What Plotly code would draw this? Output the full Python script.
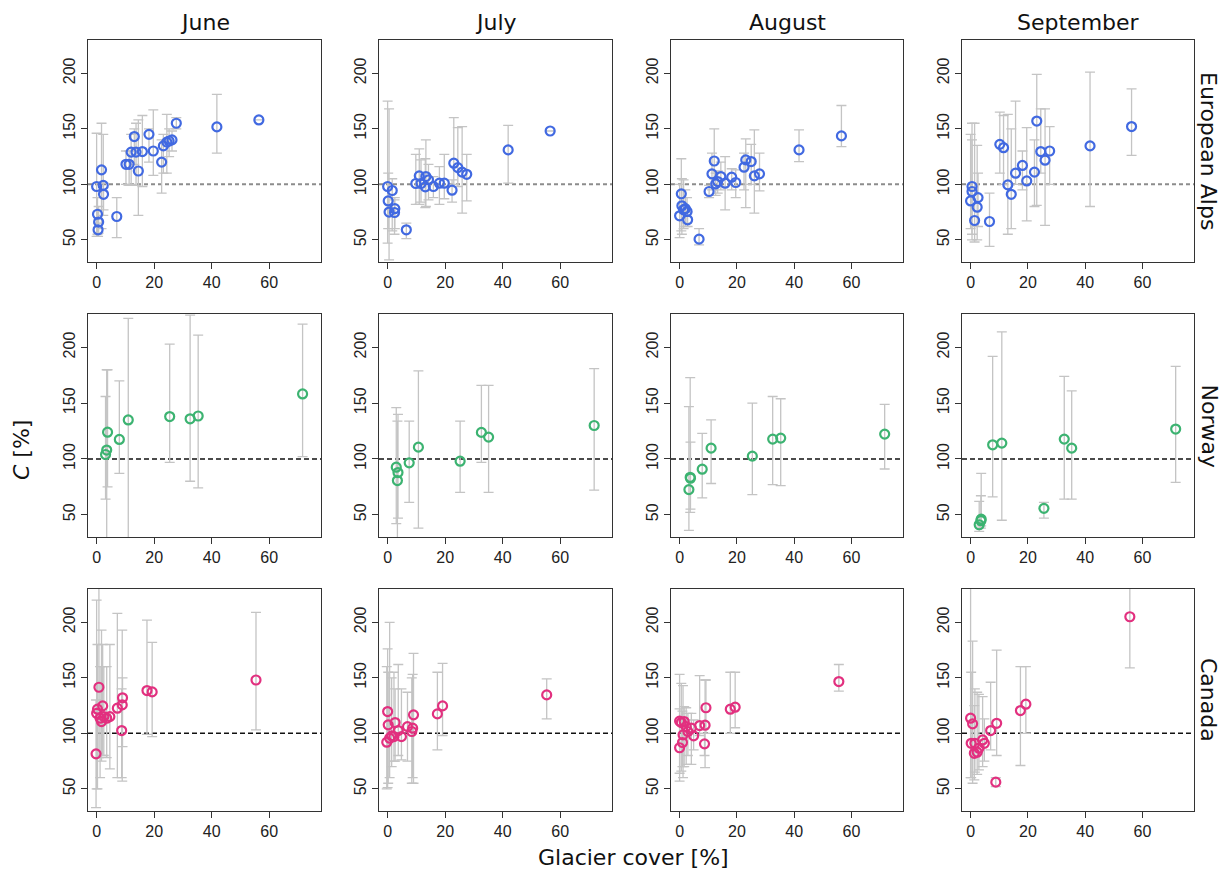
import plotly.graph_objects as go

MONTHS = ["June", "July", "August", "September"]
REGIONS = ["European Alps", "Norway", "Canada"]
REGION_COLORS = ["#4169e1", "#3cb371", "#e2307f"]
X_TICKS = [0, 20, 40, 60]
Y_TICKS = [50, 100, 150, 200]

# (glacier cover %, C %, lower bound, upper bound)
ALPS_JUNE = [
    (0.0, 98, 53, 146), (0.3, 73, 55, 88), (0.7, 66, 56, 80), (0.5, 59, 53, 65),
    (1.7, 113, 60, 155), (2.3, 99, 72, 145), (2.4, 91, 77, 101), (7.0, 71, 52, 88),
    (10.2, 118, 100, 130), (11.3, 118, 99, 130), (12.0, 129, 100, 145), (13.1, 143, 118, 150),
    (13.7, 129, 99, 155), (14.5, 112, 72, 158), (15.9, 129.5, 98, 162), (18.2, 145, 120, 150),
    (19.7, 130, 108, 167), (22.6, 120, 92, 140), (23.2, 134.6, 110, 145), (24.4, 138, 110, 163),
    (25.2, 139, 125, 150), (26.2, 140, 130, 148), (27.7, 155, 150, 160), (41.8, 151.7, 128, 181),
    (56.4, 158, 158, 158),
]
ALPS_JULY = [
    (0.0, 98, 47, 175), (0.2, 85, 60, 110), (0.5, 75, 32, 168), (1.6, 94.4, 58, 105),
    (2.5, 78, 60, 88), (2.4, 74.6, 55, 86), (6.5, 59, 51, 65), (9.8, 100.7, 82, 127),
    (11.0, 107.6, 82, 132), (11.6, 100.7, 84, 122), (13.1, 97.7, 79, 123), (13.3, 107, 80, 140),
    (14.2, 104, 86, 118), (15.9, 98, 88, 107), (18.0, 101, 82, 116), (19.7, 101, 87, 127),
    (22.4, 94.7, 84, 104), (23.0, 119, 100, 160), (24.4, 115, 98, 151), (25.9, 111, 74, 152),
    (27.5, 109, 85, 127), (41.9, 131, 101, 153), (56.5, 148, 148, 148),
]
ALPS_AUGUST = [
    (0.6, 91.4, 58, 123), (0.0, 71.6, 52, 100), (0.8, 80.6, 55, 105), (1.4, 77, 60, 104),
    (2.0, 78, 62, 95), (2.6, 75.5, 65, 88), (2.8, 68, 62, 75), (6.8, 50.6, 45.5, 60),
    (10.3, 93.5, 88, 99), (11.3, 109.4, 95, 128), (12.1, 121, 105, 150), (12.6, 100.4, 90, 110),
    (13.3, 102.5, 92, 112), (14.4, 107, 95, 120), (15.9, 101, 77, 125), (18.2, 106.4, 95, 114),
    (19.6, 101.6, 88, 113), (22.5, 115.4, 95, 128), (23.1, 122, 79, 141), (25.0, 120.5, 100, 136),
    (26.1, 107.6, 74, 149), (27.9, 109.4, 94, 128), (41.7, 131, 120.5, 149), (56.5, 143.6, 134, 171),
]
ALPS_SEPTEMBER = [
    (0.5, 98, 50, 155), (0.0, 85, 60, 145), (0.5, 93.5, 55, 140), (1.4, 67.4, 48, 155),
    (2.6, 88, 62, 110), (2.3, 79.4, 50, 135), (6.6, 66.5, 44, 92), (10.2, 136, 110, 165),
    (11.5, 133, 100, 162), (13.0, 99.5, 55, 163), (14.2, 91, 60, 150), (15.7, 110, 100, 175),
    (18.1, 117, 95, 130), (19.6, 103, 67, 151), (22.3, 111, 80, 140), (23.1, 157, 81, 199),
    (24.5, 129.5, 110, 168), (26.0, 121.7, 63, 168), (27.6, 130, 100, 152), (41.7, 134.6, 80, 201),
    (56.2, 152, 126, 186),
]

NORWAY_JUNE = [
    (3.1, 104, 64, 156), (3.5, 108, 20, 180), (3.8, 124, 75, 180), (7.9, 117.5, 87, 170),
    (11.0, 135, 20, 226), (25.4, 138, 97, 203), (32.5, 136, 80, 229), (35.3, 138.5, 74, 211),
    (71.6, 158.3, 102, 221),
]
NORWAY_JULY = [
    (3.0, 92.6, 42, 146), (3.6, 87.8, 47, 140), (3.4, 80.6, 20, 134), (7.5, 96.5, 61, 134),
    (10.7, 110.6, 38, 179), (25.2, 98, 70, 134), (32.6, 123.8, 97, 166), (35.1, 119.6, 70, 166),
    (71.8, 130, 72, 181),
]
NORWAY_AUGUST = [
    (3.25, 72.5, 36, 147), (3.7, 83.6, 52, 173), (3.8, 82.7, 55, 115), (7.9, 90.8, 65, 123),
    (11.0, 109.7, 78, 135), (25.4, 102.5, 68, 150), (32.5, 117.8, 77, 156), (35.3, 118.7, 76, 154),
    (71.6, 122.3, 91, 149),
]
NORWAY_SEPTEMBER = [
    (3.0, 41, 35, 62), (3.6, 44.6, 38, 67), (3.7, 46, 40, 87), (7.7, 112.7, 66, 192),
    (10.9, 114.2, 45, 214), (25.6, 55.7, 47, 61), (32.7, 117.8, 64, 174), (35.3, 109.7, 64, 161),
    (71.6, 126.8, 79, 183),
]

CANADA_JUNE = [
    (-0.2, 81.5, 33, 130), (0.0, 118, 50, 220), (0.3, 121.7, 50, 180), (0.8, 141.5, 78, 232),
    (1.2, 113.6, 60, 160), (1.7, 110.6, 75, 193), (2.1, 124.7, 80, 180), (2.5, 115, 80, 160),
    (3.5, 113.6, 78, 160), (4.6, 115, 68, 180), (7.2, 122.6, 60, 208), (8.7, 102.5, 60, 140),
    (8.9, 125.6, 57, 193), (9.0, 132, 88, 150), (17.5, 138.5, 99, 202), (19.3, 137.3, 97, 182),
    (55.4, 148, 103, 209),
]
CANADA_JULY = [
    (0.0, 119.6, 51, 176), (-0.3, 92, 50, 160), (0.2, 107.6, 55, 155), (0.7, 95.6, 60, 200),
    (1.4, 97.7, 70, 150), (2.2, 97, 75, 155), (2.6, 109.7, 75, 140), (3.7, 102.5, 80, 162),
    (4.8, 97, 76, 140), (6.9, 106, 75, 137), (8.4, 101.6, 55, 150), (8.7, 104.6, 60, 153),
    (9.0, 116.6, 55, 172), (17.3, 117.5, 85, 155), (19.1, 124.7, 98, 163), (55.3, 134.6, 113, 149),
]
CANADA_AUGUST = [
    (0.0, 87, 57, 122), (0.0, 111, 64, 153), (0.6, 109.7, 66, 145), (1.2, 98.6, 60, 143),
    (1.6, 110.6, 70, 124), (1.0, 91.7, 70, 120), (2.3, 106, 72, 123), (2.9, 101.6, 80, 118),
    (4.1, 104.6, 72, 118), (4.9, 97.7, 85, 112), (7.0, 107, 98, 152), (8.9, 107.3, 69, 148),
    (8.7, 90.5, 80, 100), (9.2, 123, 100, 148), (17.7, 121.7, 100, 155), (19.4, 123.5, 105, 155),
    (55.6, 146.6, 138, 162),
]
CANADA_SEPTEMBER = [
    (0.0, 113.6, 60, 240), (0.7, 108.5, 55, 183), (0.2, 91, 60, 155), (1.5, 91, 65, 140),
    (1.3, 82, 58, 125), (2.3, 83, 63, 137), (2.9, 86.6, 67, 135), (4.2, 94, 70, 133),
    (4.8, 91, 75, 113), (7.0, 102.5, 85, 146), (9.1, 109, 80, 175), (8.8, 56, 52, 60),
    (17.4, 120.5, 71, 160), (19.3, 126.2, 100, 160), (55.6, 205, 159, 240),
]

PANELS = [
    [ALPS_JUNE, ALPS_JULY, ALPS_AUGUST, ALPS_SEPTEMBER],
    [NORWAY_JUNE, NORWAY_JULY, NORWAY_AUGUST, NORWAY_SEPTEMBER],
    [CANADA_JUNE, CANADA_JULY, CANADA_AUGUST, CANADA_SEPTEMBER],
]

W, H = 1224, 873
COL_PX = [(88, 321), (379, 612), (671, 903), (962, 1194)]
ROW_PX = [(40, 262), (314, 537), (589, 811)]

fig = go.Figure()
layout = dict(
    width=W, height=H, margin=dict(l=0, r=0, t=0, b=0),
    paper_bgcolor="white", plot_bgcolor="white", showlegend=False,
    font=dict(family="Liberation Sans, Arial, sans-serif", color="#222"),
)
shapes = []
annotations = []

for r in range(3):
    for c in range(4):
        idx = r * 4 + c + 1
        sfx = "" if idx == 1 else str(idx)
        pts = PANELS[r][c]
        xs = [p[0] for p in pts]
        ys = [p[1] for p in pts]
        up = [p[3] - p[1] for p in pts]
        dn = [p[1] - p[2] for p in pts]
        fig.add_trace(go.Scatter(
            x=xs, y=ys, mode="markers", xaxis="x" + sfx, yaxis="y" + sfx,
            marker=dict(symbol="circle-open", size=9, color=REGION_COLORS[r],
                        line=dict(width=2.2, color=REGION_COLORS[r])),
            error_y=dict(type="data", symmetric=False, array=up, arrayminus=dn,
                         color="#c4c4c4", thickness=1.3, width=5),
            cliponaxis=True, hoverinfo="skip",
        ))
        x0, x1 = COL_PX[c]
        y0, y1 = ROW_PX[r]
        layout["xaxis" + sfx] = dict(
            domain=[x0 / W, x1 / W], anchor="y" + sfx, range=[-3, 78],
            tickvals=X_TICKS, ticks="outside", ticklen=6, tickcolor="#333",
            showline=True, mirror=True, linecolor="#333", linewidth=1.2,
            showgrid=False, zeroline=False, tickfont=dict(size=16, color="#222"),
        )
        layout["yaxis" + sfx] = dict(
            domain=[1 - y1 / H, 1 - y0 / H], anchor="x" + sfx, range=[30, 230],
            tickvals=Y_TICKS, ticks="outside", ticklen=6, tickcolor="#333",
            showline=True, mirror=True, linecolor="#333", linewidth=1.2,
            showgrid=False, zeroline=False, tickangle=-90,
            tickfont=dict(size=16, color="#222"),
        )
        shapes.append(dict(
            type="line", xref="x" + sfx + " domain", yref="y" + sfx,
            x0=0, x1=1, y0=100, y1=100, layer="below",
            line=dict(color="#8c8c8c" if r == 0 else "#111",
                      width=2 if r == 0 else 1.5,
                      dash="4px,3px" if r == 0 else "5px,3px"),
        ))

TITLE_FONT = dict(family="DejaVu Sans, Verdana, sans-serif", size=22, color="#111")
for c, m in enumerate(MONTHS):
    x0, x1 = COL_PX[c]
    annotations.append(dict(text=m, xref="paper", yref="paper",
                            x=(x0 + x1) / 2 / W, y=1 - 22 / H, showarrow=False,
                            font=TITLE_FONT, xanchor="center", yanchor="middle"))
for r, reg in enumerate(REGIONS):
    y0, y1 = ROW_PX[r]
    annotations.append(dict(text=reg, xref="paper", yref="paper",
                            x=1209 / W, y=1 - (y0 + y1) / 2 / H, showarrow=False,
                            textangle=90, font=TITLE_FONT,
                            xanchor="center", yanchor="middle"))
annotations.append(dict(text="<i>C</i> [%]", xref="paper", yref="paper",
                        x=22 / W, y=1 - 450 / H, showarrow=False, textangle=-90,
                        font=TITLE_FONT, xanchor="center", yanchor="middle"))
annotations.append(dict(text="Glacier cover [%]", xref="paper", yref="paper",
                        x=633 / W, y=1 - 857 / H, showarrow=False,
                        font=TITLE_FONT, xanchor="center", yanchor="middle"))

layout["shapes"] = shapes
layout["annotations"] = annotations
fig.update_layout(**layout)
fig.write_html(
    "out.html",
    config={"displayModeBar": False},
    post_script="document.body.style.margin='0';document.body.style.overflow='hidden';",
)
